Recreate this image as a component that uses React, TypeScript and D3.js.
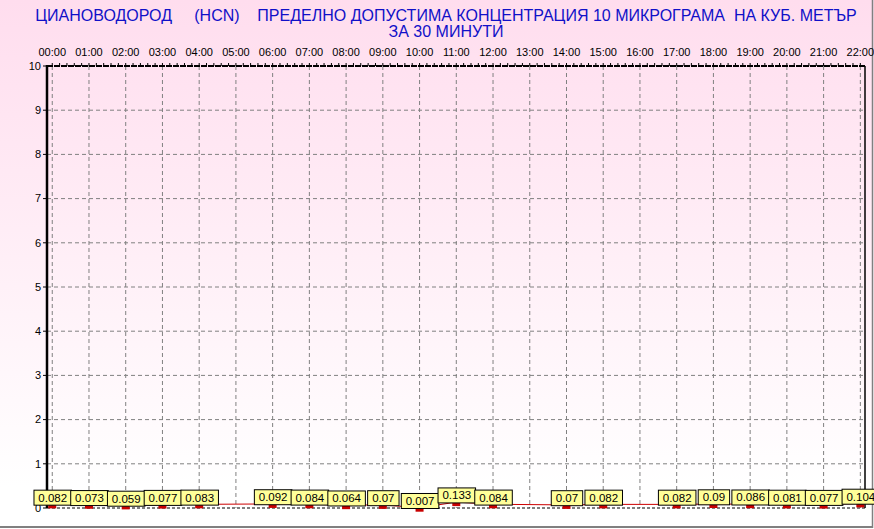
import React from "react";
import * as d3 from "d3";

const titleLine1 = "ЦИАНОВОДОРОД     (HCN)    ПРЕДЕЛНО ДОПУСТИМА КОНЦЕНТРАЦИЯ 10 МИКРОГРАМА  НА КУБ. МЕТЪР";
const titleLine2 = "ЗА 30 МИНУТИ";

const hourTicks = [0, 1, 2, 3, 4, 5, 6, 7, 8, 9, 10, 11, 12, 13, 14, 15, 16, 17, 18, 19, 20, 21, 22];
const hourLabels = [
  "00:00", "01:00", "02:00", "03:00", "04:00", "05:00", "06:00", "07:00", "08:00", "09:00", "10:00",
  "11:00", "12:00", "13:00", "14:00", "15:00", "16:00", "17:00", "18:00", "19:00", "20:00", "21:00", "22:00",
];
const yTicks = [0, 1, 2, 3, 4, 5, 6, 7, 8, 9, 10];

const pointHours = [0, 1, 2, 3, 4, 6, 7, 8, 9, 10, 11, 12, 14, 15, 17, 18, 19, 20, 21, 22];
const pointValues = [
  0.082, 0.073, 0.059, 0.077, 0.083, 0.092, 0.084, 0.064, 0.07, 0.007, 0.133, 0.084, 0.07, 0.082,
  0.082, 0.09, 0.086, 0.081, 0.077, 0.104,
];
const pointLabels = [
  "0.082", "0.073", "0.059", "0.077", "0.083", "0.092", "0.084", "0.064", "0.07", "0.007", "0.133",
  "0.084", "0.07", "0.082", "0.082", "0.09", "0.086", "0.081", "0.077", "0.104",
];

const W = 874;
const H = 529;
const PL = 47;
const PR = 865;
const PT = 66;
const PB = 508;
const FONT = "'Liberation Sans', Arial, sans-serif";

export default function App() {
  const x = d3.scaleLinear().domain([-0.143, 22.127]).range([PL, PR]);
  const y = d3.scaleLinear().domain([0, 10]).range([PB, PT]);

  const pts = pointHours.map((h, i) => ({ h, v: pointValues[i], label: pointLabels[i] }));
  const line = d3
    .line<{ h: number; v: number }>()
    .x((d) => x(d.h))
    .y((d) => y(d.v));

  const minorTicks = d3.range(0, 22 * 5 + 1).map((i) => i / 5);

  const textW = (s: string) => {
    let w = 0;
    for (const c of s) w += c === "." ? 3.06 : 6.12;
    return w;
  };

  return (
    <svg
      width={W}
      height={H}
      style={{ position: "absolute", left: 0, top: 0, display: "block" }}
      fontFamily={FONT}
    >
      <defs>
        <linearGradient id="bg" x1="0" y1="0" x2="0" y2="1">
          <stop offset="0" stopColor="#FFDDEE" />
          <stop offset="0.92" stopColor="#FFFFFF" />
          <stop offset="1" stopColor="#FFFFFF" />
        </linearGradient>
      </defs>
      <rect x={0} y={0} width={W} height={H} fill="url(#bg)" />
      {/* outer frame */}
      <line x1={0} y1={527} x2={873} y2={527} stroke="#808080" strokeWidth={2} />
      <line x1={872.5} y1={0} x2={872.5} y2={528} stroke="#808080" strokeWidth={1.5} />

      {/* title */}
      <text x={446} y={21} textAnchor="middle" fontSize={16} fill="#1010C8" style={{ whiteSpace: "pre" }}>
        {titleLine1}
      </text>
      <text x={446} y={37} textAnchor="middle" fontSize={16} fill="#1010C8">
        {titleLine2}
      </text>

      {/* grid */}
      {yTicks.slice(1, -1).map((t) => (
        <line key={"hy" + t} x1={PL} x2={PR} y1={y(t)} y2={y(t)} stroke="#808080" strokeDasharray="4,3" />
      ))}
      {hourTicks.slice(1).map((h) => (
        <line key={"vx" + h} x1={x(h)} x2={x(h)} y1={PT} y2={PB} stroke="#808080" strokeDasharray="4,3" />
      ))}
      {hourTicks.slice(0, 1).map((h) => (
        <line key={"vx" + h} x1={x(h)} x2={x(h)} y1={PT} y2={PB} stroke="#808080" strokeDasharray="4,3" />
      ))}

      {/* top axis labels */}
      {hourTicks.map((h, i) => (
        <text key={"hl" + h} x={x(h)} y={56} textAnchor="middle" fontSize={11} fill="#000">
          {hourLabels[i]}
        </text>
      ))}
      {/* top border with ticks */}
      <line x1={PL} x2={PR} y1={PT} y2={PT} stroke="#000" strokeWidth={2} strokeDasharray="6,1" />
      {minorTicks.map((m) => (
        <line key={"mt" + m} x1={x(m)} x2={x(m)} y1={PT - 3} y2={PT} stroke="#000" strokeWidth={1} />
      ))}

      {/* y axis labels */}
      {yTicks.map((t) => (
        <g key={"yt" + t}>
          <line x1={PL - 4} x2={PL} y1={y(t)} y2={y(t)} stroke="#000" />
          <text x={41} y={y(t)} dy="0.35em" textAnchor="end" fontSize={11} fill="#000">
            {t}
          </text>
        </g>
      ))}

      {/* right and bottom borders, left axis */}
      <line x1={PR} x2={PR} y1={PT} y2={PB} stroke="#000" strokeWidth={1.5} />
      <line x1={PL} x2={PR} y1={PB} y2={PB} stroke="#000" strokeDasharray="3,2" />
      <line x1={PL} x2={PL} y1={PT - 1} y2={PB} stroke="#000" strokeWidth={2.5} />

      {/* data line */}
      <path d={line(pts) || ""} fill="none" stroke="#CC0000" strokeWidth={1} />
      {/* markers */}
      {pts.map((p, i) => (
        <rect key={"m" + i} x={x(p.h) - 4} y={y(p.v) - 4} width={8} height={8} fill="#C80000" />
      ))}
      {/* labels */}
      {pts.map((p, i) => {
        const w = textW(p.label) + 10;
        const cx = x(p.h);
        const by = y(p.v) + 0.8;
        return (
          <g key={"l" + i}>
            <rect x={cx - w / 2 + 0.5} y={by - 15} width={w} height={15} fill="#FFFF99" stroke="#000" strokeWidth={1} />
            <text x={cx + 0.5} y={by - 3.5} textAnchor="middle" fontSize={11.5} fill="#000">
              {p.label}
            </text>
          </g>
        );
      })}
    </svg>
  );
}
